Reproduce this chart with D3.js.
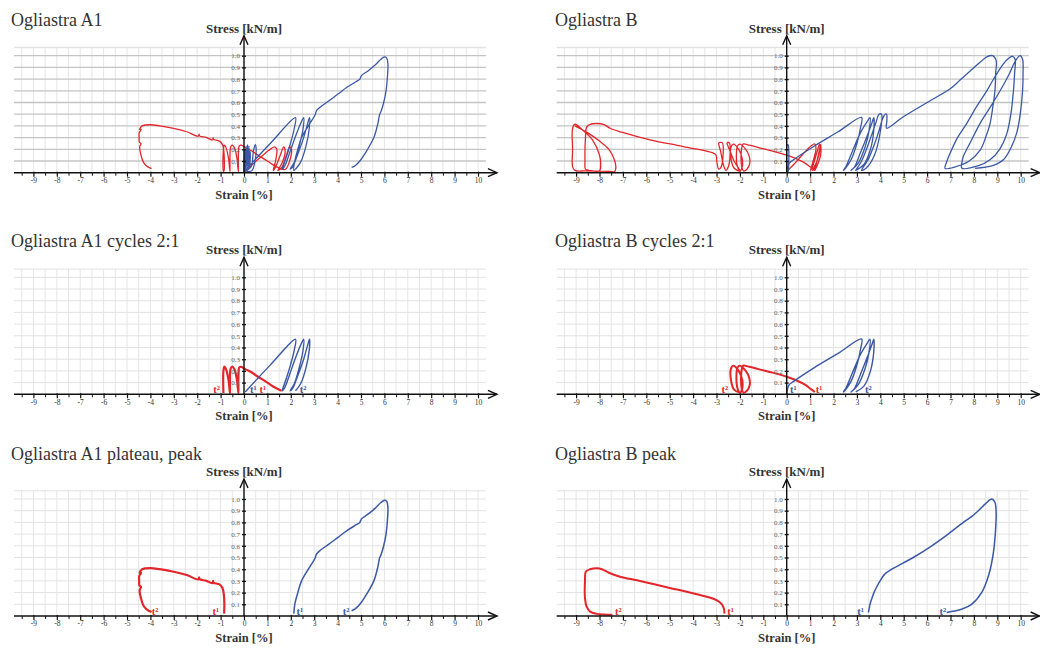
<!DOCTYPE html>
<html>
<head>
<meta charset="utf-8">
<script src="https://cdn.jsdelivr.net/npm/d3@7"></script>
<style>
  body { margin: 0; background: #fff; }
  svg { display: block; }
  text { font-family: "Liberation Serif", "Times New Roman", serif; }
</style>
</head>
<body>
<svg id="chart" width="1040" height="648"></svg>
<script>
// axis ticks
var strainTicks = d3.range(-9, 11);
var strainMinor = d3.range(-9.5, 10.5, 1);
var stressTicks = [0.1, 0.2, 0.3, 0.4, 0.5, 0.6, 0.7, 0.8, 0.9, 1.0];

// ---- Ogliastra A1 curves [strain %, stress kN/m] ----
var a1OriginBlue = [[0,0],[0.03,0.2],[0.06,0.02],[0.09,0.23],[0.12,0.03],[0.15,0.24],[0.18,0.04],[0.21,0.23],[0.24,0.05],[0.26,0.18],[0.1,0.1],[0.05,0.02],
  [0.3,0.05],[0.4,0.18],[0.48,0.24],[0.52,0.2],[0.45,0.08],[0.35,0.02],[0.2,0.01],[0.05,0.02]];
var a1CycBlue = [[0.05,0.02],[1.1,0.245],[2.2,0.47],[2.15,0.38],[2.0,0.26],[1.8,0.13],[1.66,0.05],[1.63,0.03],
  [1.75,0.06],[1.95,0.17],[2.2,0.31],[2.42,0.42],[2.55,0.47],[2.52,0.37],[2.35,0.22],[2.15,0.09],[1.97,0.03],
  [2.08,0.05],[2.3,0.16],[2.55,0.3],[2.72,0.42],[2.8,0.47],[2.79,0.38],[2.64,0.22],[2.42,0.09],[2.2,0.03]];
var a1PeakBlue = [[2.13,0.02],[2.17,0.1],[2.3,0.2],[2.46,0.3],[2.75,0.4],[3.0,0.48],[3.05,0.5],[3.1,0.53],[3.25,0.56],
  [3.6,0.61],[4.0,0.67],[4.4,0.73],[4.8,0.78],[4.95,0.8],[5.02,0.83],[5.3,0.87],[5.6,0.92],[5.85,0.97],[6.0,0.99],
  [6.1,0.98],[6.15,0.93],[6.13,0.82],[6.07,0.7],[5.97,0.6],[5.85,0.52],[5.8,0.5],[5.72,0.42],[5.55,0.3],
  [5.28,0.2],[4.95,0.1],[4.75,0.06],[4.6,0.045]];
var a1LeafRed = [[0.0,0.0],[0.3,0.06],[0.7,0.13],[1.05,0.19],[1.3,0.22],[1.4,0.2],[1.35,0.1],[1.25,0.02],
  [1.35,0.05],[1.55,0.15],[1.7,0.22],[1.76,0.18],[1.62,0.08],[1.45,0.02],[1.6,0.04],[1.8,0.14],[1.95,0.22],
  [2.03,0.2],[1.95,0.1],[1.78,0.03],[1.6,0.03]];
var a1ApproachRed = [[1.6,0.03],[1.3,0.06],[1.0,0.1],[0.6,0.15],[0.3,0.19],[0.05,0.215]];
var a1SawRed = [[-0.12,0.235],[-0.2,0.23],[-0.24,0.15],[-0.24,0.01],[-0.3,0.12],[-0.4,0.21],[-0.5,0.236],
  [-0.57,0.22],[-0.6,0.12],[-0.6,0.01],[-0.66,0.12],[-0.76,0.21],[-0.84,0.236],[-0.88,0.2],[-0.88,0.01]];
var a1PeakRed = [[-0.85,0.02],[-0.84,0.1],[-0.86,0.18],[-0.92,0.24],[-1.05,0.27],[-1.3,0.285],[-1.32,0.3],[-1.34,0.28],
  [-1.6,0.3],[-1.9,0.315],[-1.92,0.33],[-1.95,0.312],[-2.45,0.35],[-3.0,0.378],[-3.6,0.4],[-4.0,0.41],[-4.35,0.4],
  [-4.46,0.37],[-4.4,0.37],[-4.48,0.34],[-4.48,0.3],[-4.47,0.26],[-4.4,0.25],[-4.46,0.22],[-4.4,0.15],
  [-4.3,0.09],[-4.15,0.055],[-3.95,0.035]];

// ---- Ogliastra B curves ----
var bOriginBlue = [[0.02,0.0],[0.03,0.24],[0.06,0.24],[0.07,0.02],[0.04,0.0]];
var bCycBlue = [[0.0,0.0],[0.03,0.04],[0.1,0.08],[0.28,0.108],[1.2,0.23],[2.2,0.35],[3.2,0.473],[3.15,0.38],
  [3.0,0.25],[2.75,0.11],[2.5,0.035],[2.42,0.02],[2.55,0.06],[2.8,0.18],[3.15,0.34],[3.45,0.44],[3.56,0.47],
  [3.52,0.36],[3.35,0.22],[3.05,0.08],[2.75,0.02],[2.9,0.05],[3.15,0.17],[3.45,0.32],[3.65,0.43],[3.72,0.47],
  [3.72,0.36],[3.58,0.2],[3.3,0.07],[2.95,0.02]];
var bMidBlue = [[2.95,0.02],[3.2,0.1],[3.5,0.25],[3.8,0.42],[3.95,0.5],[4.05,0.5],[4.0,0.35],[3.75,0.15],
  [3.4,0.04],[3.2,0.02],[3.5,0.12],[3.85,0.3],[4.1,0.46],[4.2,0.5],[4.27,0.5],[4.28,0.44],[4.27,0.38],
  [5.0,0.48],[6.0,0.6],[7.0,0.72],[7.4,0.79],[7.9,0.88],[8.3,0.95],[8.55,0.99],[8.8,1.0],[8.95,0.96],
  [8.93,0.85],[8.9,0.7],[8.8,0.55],[8.69,0.42],[8.5,0.3],[8.26,0.19],[7.8,0.1],[7.2,0.05],[6.77,0.037],
  [6.85,0.1],[6.98,0.165],[7.3,0.3],[7.69,0.42],[8.1,0.56],[8.55,0.7],[8.9,0.82],[9.26,0.93],[9.5,0.98],
  [9.65,0.995],[9.76,0.97],[9.74,0.85],[9.69,0.7],[9.58,0.5],[9.4,0.33],[9.1,0.2],[8.69,0.11],[8.2,0.06],
  [7.48,0.04],[7.5,0.1],[7.55,0.14],[7.9,0.28],[8.26,0.42],[8.7,0.56],[9.12,0.7],[9.5,0.84],[9.76,0.95],
  [9.97,1.0],[10.08,0.97],[10.1,0.85],[10.08,0.7],[9.98,0.5],[9.83,0.34],[9.6,0.22],[9.26,0.11],[8.8,0.06],
  [8.05,0.037]];
var bPeakBlue = [[3.49,0.03],[3.52,0.06],[3.56,0.1],[3.64,0.15],[3.73,0.2],[3.85,0.25],[3.99,0.3],[4.2,0.36],
  [4.49,0.4],[4.95,0.45],[5.41,0.5],[6.2,0.6],[6.9,0.7],[7.55,0.8],[7.9,0.85],[8.19,0.9],[8.5,0.96],[8.76,1.0],
  [8.9,0.97],[8.95,0.88],[8.93,0.75],[8.87,0.6],[8.8,0.5],[8.7,0.4],[8.55,0.3],[8.33,0.2],[7.9,0.1],[7.5,0.06],
  [7.1,0.04],[6.84,0.03]];
var bLeafRed = [[0.0,0.01],[0.3,0.07],[0.7,0.16],[1.05,0.23],[1.2,0.245],[1.25,0.2],[1.1,0.08],[1.02,0.02],
  [1.12,0.06],[1.3,0.18],[1.4,0.245],[1.42,0.2],[1.3,0.1],[1.1,0.02],[1.2,0.04],[1.35,0.15],[1.45,0.24],
  [1.45,0.15],[1.3,0.06],[1.2,0.02]];
var bApproachRed = [[1.2,0.02],[1.0,0.05],[0.8,0.08],[0.4,0.12],[0.0,0.15],[-0.6,0.185],[-1.2,0.215],
  [-1.6,0.235],[-1.85,0.246]];
var bSawRed = [[-1.9,0.23],[-1.95,0.15],[-1.92,0.05],[-1.85,0.015],[-1.7,0.03],[-1.58,0.08],[-1.6,0.14],
  [-1.75,0.2],[-2.0,0.245],[-2.1,0.23],[-2.15,0.15],[-2.1,0.05],[-2.0,0.015],[-1.9,0.05],[-1.9,0.12],
  [-2.05,0.2],[-2.28,0.245],[-2.38,0.22],[-2.38,0.12],[-2.25,0.04],[-2.0,0.015]];
var bMidRed = [[-2.25,0.1],[-2.45,0.2],[-2.55,0.255],[-2.45,0.255],[-2.42,0.15],[-2.48,0.06],[-2.6,0.02],
  [-2.72,0.08],[-2.82,0.18],[-2.9,0.255],[-2.75,0.255],[-2.72,0.15],[-2.8,0.05],[-2.9,0.03],[-2.99,0.1],
  [-3.0,0.137],[-3.06,0.16],[-4.42,0.223],[-5.84,0.28],[-7.05,0.346],[-7.55,0.38],[-7.83,0.414],[-8.4,0.414],
  [-8.55,0.39],[-8.6,0.3],[-8.62,0.1],[-8.6,0.03],[-8.45,0.02],[-8.0,0.017],[-7.95,0.08],[-8.0,0.15],
  [-8.3,0.28],[-8.7,0.36],[-9.05,0.414],[-9.15,0.38],[-9.15,0.2],[-9.15,0.05],[-9.05,0.02],[-8.6,0.015],
  [-7.6,0.012],[-7.35,0.01],[-7.3,0.05],[-7.38,0.12],[-7.6,0.2],[-8.0,0.27],[-8.5,0.34],[-9.05,0.4]];
var bPeakRed = [[-2.66,0.02],[-2.68,0.06],[-2.74,0.09],[-2.85,0.115],[-3.1,0.145],[-3.42,0.165],[-4.27,0.208],
  [-5.0,0.24],[-5.7,0.273],[-6.4,0.305],[-7.12,0.336],[-7.6,0.37],[-7.9,0.4],[-8.1,0.408],[-8.4,0.4],
  [-8.58,0.38],[-8.62,0.3],[-8.62,0.15],[-8.55,0.08],[-8.4,0.037],[-8.1,0.018],[-7.8,0.012],[-7.45,0.01]];

// t labels [strain, text, colour key]
var a1CycLabels = [[-1.17,"t²","red"],[0.4,"t¹","blue"],[0.8,"t¹","red"],[2.53,"t²","blue"]];
var bCycLabels = [[-2.64,"t²","red"],[0.28,"t¹","blue"],[1.38,"t¹","red"],[3.49,"t²","blue"]];
var a1PeakLabels = [[-3.8,"t²","red"],[-1.2,"t¹","red"],[2.39,"t¹","blue"],[4.36,"t²","blue"]];
var bPeakLabels = [[-7.2,"t²","red"],[-2.4,"t¹","red"],[3.16,"t¹","blue"],[6.67,"t²","blue"]];

var colours = { blue: "#3b58a5", red: "#e3262b" };

var panels = [
  { title: "Ogliastra A1", col: 0, row: 0, dark: true, w: 1.3,
    blue: [a1OriginBlue.concat(a1CycBlue, a1PeakBlue)], red: [a1LeafRed.concat(a1ApproachRed, a1SawRed, a1PeakRed)], labels: [] },
  { title: "Ogliastra B", col: 1, row: 0, dark: true, w: 1.3,
    blue: [bOriginBlue, bCycBlue.concat(bMidBlue)], red: [bLeafRed.concat(bApproachRed, bSawRed, bMidRed)], labels: [] },
  { title: "Ogliastra A1 cycles 2:1", col: 0, row: 1, dark: false, w: 1.4, rw: 2.2,
    blue: [a1CycBlue], red: [a1ApproachRed.concat(a1SawRed)], labels: a1CycLabels },
  { title: "Ogliastra B cycles 2:1", col: 1, row: 1, dark: false, w: 1.4, rw: 2,
    blue: [bCycBlue], red: [bApproachRed.concat(bSawRed)], labels: bCycLabels },
  { title: "Ogliastra A1 plateau, peak", col: 0, row: 2, dark: false, w: 1.5, rw: 2.2,
    blue: [a1PeakBlue], red: [a1PeakRed], labels: a1PeakLabels },
  { title: "Ogliastra B peak", col: 1, row: 2, dark: false, w: 1.5, rw: 2,
    blue: [bPeakBlue], red: [bPeakRed], labels: bPeakLabels }
];

var originX = [244, 786.7];
var baseY = [172.7, 394.3, 616];
var titleY = [25.5, 247, 460];
var titleX = [11, 555];
var S = 23.4, K = 117;

var svg = d3.select("#chart");

panels.forEach(function(p){
  var ox = originX[p.col], by = baseY[p.row];
  var x = d3.scaleLinear().domain([-9.83, 10.34]).range([ox - 9.83 * S, ox + 10.34 * S]);
  var y = d3.scaleLinear().domain([0, 1.07]).range([by, by - 1.07 * K]);
  var g = svg.append("g");

  // grid
  var vLines = d3.range(-9.5, 10.5, 0.5);
  g.selectAll(".vg").data(vLines).enter().append("line")
    .attr("x1", d => x(d)).attr("x2", d => x(d))
    .attr("y1", y(0)).attr("y2", y(1.07))
    .attr("stroke", "#e6e6e6").attr("stroke-width", 1);
  g.selectAll(".hg").data(stressTicks.concat([1.07])).enter().append("line")
    .attr("x1", x(-9.83)).attr("x2", x(10.34))
    .attr("y1", d => y(d)).attr("y2", d => y(d))
    .attr("stroke", d => (p.dark && d <= 1.0) ? "#c4c4c4" : "#e2e2e2")
    .attr("stroke-width", p.dark ? 1.3 : 1);

  // curves
  var line = d3.line().x(d => x(d[0])).y(d => y(d[1])).curve(d3.curveCatmullRom.alpha(0.5));
  p.red.forEach(function(c){
    g.append("path").attr("d", line(c)).attr("fill", "none")
      .attr("stroke", colours.red).attr("stroke-width", p.rw || p.w).attr("stroke-linejoin", "round");
  });
  p.blue.forEach(function(c){
    g.append("path").attr("d", line(c)).attr("fill", "none")
      .attr("stroke", colours.blue).attr("stroke-width", p.w).attr("stroke-linejoin", "round");
  });

  // x axis
  var xMaj = g.append("g").attr("transform", "translate(0," + by + ")")
    .call(d3.axisBottom(x).tickValues(strainTicks).tickSize(4).tickFormat(d => String(d)));
  xMaj.select(".domain").remove();
  xMaj.selectAll("line").attr("y1", -1).attr("stroke", "#111").attr("stroke-width", 1.2);
  xMaj.selectAll("text").attr("y", 5).attr("font-size", "7.5px").attr("fill", "#333")
    .attr("font-family", "Liberation Serif, serif");
  var xMin = g.append("g").attr("transform", "translate(0," + by + ")")
    .call(d3.axisBottom(x).tickValues(strainMinor).tickSize(3).tickFormat(""));
  xMin.select(".domain").remove();
  xMin.selectAll("line").attr("stroke", "#111").attr("stroke-width", 1);

  var tipX = x(10.34) + 11;
  g.append("line").attr("x1", x(-9.83)).attr("x2", tipX).attr("y1", by).attr("y2", by)
    .attr("stroke", "#111").attr("stroke-width", 1.4);
  g.append("path").attr("d", "M" + (tipX - 9) + "," + (by - 4) + "L" + tipX + "," + by + "L" + (tipX - 9) + "," + (by + 4))
    .attr("fill", "none").attr("stroke", "#111").attr("stroke-width", 1.4);

  // y axis
  var yAx = g.append("g").attr("transform", "translate(" + ox + ",0)")
    .call(d3.axisLeft(y).tickValues(stressTicks).tickSize(2).tickFormat(d3.format(".1f")));
  yAx.select(".domain").remove();
  yAx.selectAll("line").attr("x1", 2).attr("stroke", "#111").attr("stroke-width", 1.3);
  yAx.selectAll("text").attr("x", -4).attr("font-size", "7px").attr("fill", "#666")
    .attr("font-family", "Liberation Serif, serif");
  var tipY = by - 137;
  g.append("line").attr("x1", ox).attr("x2", ox).attr("y1", by).attr("y2", tipY)
    .attr("stroke", "#111").attr("stroke-width", 1.4);
  g.append("path").attr("d", "M" + (ox - 4) + "," + (tipY + 9) + "L" + ox + "," + tipY + "L" + (ox + 4) + "," + (tipY + 9))
    .attr("fill", "none").attr("stroke", "#111").attr("stroke-width", 1.4);

  // labels
  g.append("text").attr("x", ox).attr("y", by - 140).attr("text-anchor", "middle")
    .attr("font-size", "13px").attr("font-weight", "bold").attr("fill", "#333").text("Stress [kN/m]");
  g.append("text").attr("x", ox).attr("y", by + 26).attr("text-anchor", "middle")
    .attr("font-size", "12.5px").attr("font-weight", "bold").attr("fill", "#333").text("Strain [%]");
  svg.append("text").attr("x", titleX[p.col]).attr("y", titleY[p.row])
    .attr("font-size", "18px").attr("fill", "#333").text(p.title);

  g.selectAll(".tl").data(p.labels).enter().append("text")
    .attr("x", d => x(d[0])).attr("y", y(0.01)).attr("text-anchor", "middle")
    .attr("font-size", "10.5px").attr("font-weight", "bold").attr("fill", d => colours[d[2]])
    .text(d => d[1]);
});
</script>
</body>
</html>
